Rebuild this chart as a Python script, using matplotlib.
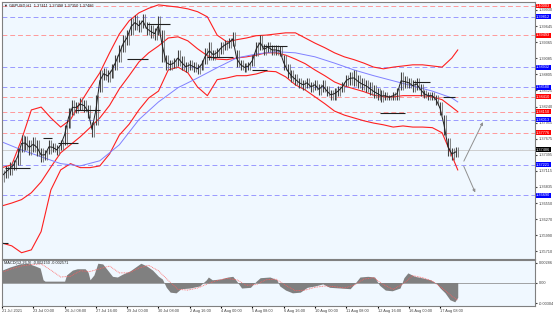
import matplotlib
matplotlib.use('Agg')
from matplotlib import pyplot as plt
import numpy as np

plt.rcParams['font.family'] = ['Liberation Sans', 'DejaVu Sans']

# bars sampled every 4 H1 bars (high / low)
bar_x = np.arange(0, 468, 4)
bar_hi = [1.3713, 1.3720, 1.3727, 1.3731, 1.3751, 1.3774, 1.3772, 1.3766, 1.3771, 1.3766,
          1.3751, 1.3748, 1.3766, 1.3760, 1.3757, 1.3766, 1.3792, 1.3822, 1.3836, 1.3832,
          1.3839, 1.3836, 1.3827, 1.3797, 1.3844, 1.3888, 1.3892, 1.3888, 1.3899, 1.3914,
          1.3932, 1.3949, 1.3958, 1.3979, 1.3984, 1.3976, 1.3986, 1.3972, 1.3967, 1.3962,
          1.3983, 1.3958, 1.3914, 1.3906, 1.3909, 1.3923, 1.3913, 1.3902, 1.3906, 1.3902,
          1.3899, 1.3906, 1.3927, 1.3937, 1.3923, 1.3927, 1.3937, 1.3941, 1.3944, 1.3955,
          1.3923, 1.3906, 1.3900, 1.3902, 1.3914, 1.3937, 1.3949, 1.3934, 1.3937, 1.3932,
          1.3932, 1.3930, 1.3914, 1.3899, 1.3888, 1.3881, 1.3874, 1.3871, 1.3874, 1.3867,
          1.3871, 1.3864, 1.3871, 1.3860, 1.3853, 1.3857, 1.3860, 1.3867, 1.3879, 1.3885,
          1.3888, 1.3879, 1.3874, 1.3871, 1.3867, 1.3862, 1.3857, 1.3853, 1.3850, 1.3844,
          1.3850, 1.3857, 1.3885, 1.3878, 1.3874, 1.3871, 1.3874, 1.3864, 1.3853, 1.3850,
          1.3850, 1.3844, 1.3832, 1.3809, 1.3769, 1.3751, 1.3753]
bar_lo = [1.3692, 1.3699, 1.3704, 1.3713, 1.3722, 1.3745, 1.3748, 1.3739, 1.3745, 1.3738,
          1.3727, 1.3731, 1.3741, 1.3745, 1.3739, 1.3748, 1.3757, 1.3787, 1.3809, 1.3813,
          1.3818, 1.3815, 1.3804, 1.3771, 1.3792, 1.3850, 1.3871, 1.3867, 1.3874, 1.3888,
          1.3902, 1.3920, 1.3932, 1.3949, 1.3958, 1.3955, 1.3962, 1.3949, 1.3944, 1.3941,
          1.3949, 1.3902, 1.3888, 1.3888, 1.3892, 1.3895, 1.3888, 1.3885, 1.3888, 1.3885,
          1.3881, 1.3888, 1.3899, 1.3906, 1.3906, 1.3910, 1.3916, 1.3923, 1.3927, 1.3930,
          1.3893, 1.3888, 1.3885, 1.3888, 1.3895, 1.3913, 1.3923, 1.3914, 1.3920, 1.3914,
          1.3914, 1.3913, 1.3888, 1.3874, 1.3867, 1.3862, 1.3857, 1.3853, 1.3857, 1.3850,
          1.3853, 1.3844, 1.3850, 1.3843, 1.3836, 1.3836, 1.3843, 1.3850, 1.3860, 1.3862,
          1.3860, 1.3857, 1.3853, 1.3850, 1.3844, 1.3839, 1.3836, 1.3832, 1.3836, 1.3836,
          1.3836, 1.3836, 1.3853, 1.3857, 1.3857, 1.3850, 1.3853, 1.3843, 1.3839, 1.3836,
          1.3836, 1.3827, 1.3809, 1.3774, 1.3738, 1.3731, 1.3736]

# bollinger bands, every 10 bars
band_x = list(range(0, 470, 10)) + [466]
bb_up = [1.3717, 1.3722, 1.3766, 1.3818, 1.3823, 1.3804, 1.3788, 1.3801, 1.3830, 1.3857,
         1.3883, 1.3918, 1.3951, 1.3974, 1.3988, 1.3996, 1.4002, 1.4000, 1.3998, 1.3995,
         1.3990, 1.3981, 1.3949, 1.3937, 1.3941, 1.3944, 1.3948, 1.3949, 1.3951, 1.3953,
         1.3953, 1.3944, 1.3935, 1.3927, 1.3918, 1.3911, 1.3906, 1.3900, 1.3893, 1.3890,
         1.3893, 1.3895, 1.3897, 1.3897, 1.3895, 1.3893, 1.3909, 1.3923]
bb_mid = [1.3650, 1.3655, 1.3661, 1.3673, 1.3692, 1.3718, 1.3743, 1.3757, 1.3771, 1.3787,
          1.3804, 1.3826, 1.3855, 1.3878, 1.3902, 1.3918, 1.3930, 1.3944, 1.3946, 1.3939,
          1.3925, 1.3913, 1.3907, 1.3906, 1.3909, 1.3911, 1.3914, 1.3918, 1.3918, 1.3914,
          1.3907, 1.3899, 1.3888, 1.3878, 1.3867, 1.3860, 1.3855, 1.3850, 1.3844, 1.3841,
          1.3841, 1.3843, 1.3843, 1.3843, 1.3841, 1.3836, 1.3823, 1.3815]
bb_lo = [1.3585, 1.3580, 1.3568, 1.3573, 1.3605, 1.3678, 1.3713, 1.3724, 1.3717, 1.3717,
         1.3720, 1.3741, 1.3774, 1.3793, 1.3818, 1.3839, 1.3851, 1.3888, 1.3893, 1.3883,
         1.3858, 1.3843, 1.3871, 1.3874, 1.3878, 1.3878, 1.3881, 1.3886, 1.3885, 1.3876,
         1.3862, 1.3853, 1.3841, 1.3829, 1.3816, 1.3809, 1.3804, 1.3799, 1.3795, 1.3792,
         1.3788, 1.3790, 1.3788, 1.3788, 1.3787, 1.3778, 1.3738, 1.3713]

# slow moving average (blue), every 20 bars
ma_x = list(range(0, 470, 20)) + [466]
ma_val = [1.3762, 1.3748, 1.3736, 1.3724, 1.3720, 1.3729, 1.3757, 1.3801, 1.3832, 1.3857,
          1.3874, 1.3892, 1.3909, 1.3916, 1.3920, 1.3918, 1.3911, 1.3900, 1.3888, 1.3878,
          1.3869, 1.3860, 1.3851, 1.3839, 1.3832]

# short horizontal levels (bar from, bar to, price)
seg_x0 = [0, 3, 42, 57, 75, 128, 148, 210, 256, 267, 387, 420, 451]
seg_x1 = [6, 29, 51, 78, 100, 149, 172, 236, 271, 291, 412, 438, 463]
seg_y = [1.3585, 1.3717, 1.3769, 1.3760, 1.3818, 1.3907, 1.3969, 1.3911, 1.3888, 1.3930,
         1.3813, 1.3867, 1.3841]

# dashed levels
red_lv = [1.4000, 1.3949, 1.3841, 1.3815, 1.3778]
red_txt = ['1.40003', '1.39493', '1.38410', '1.38150', '1.37776']
blue_lv = [1.3981, 1.3893, 1.3858, 1.3801, 1.3722, 1.3669]
blue_txt = ['1.39812', '1.38932', '1.38580', '1.38013', '1.37221', '1.36690']
last_price = 1.37486

# projection lines
proj_x = [471, 493, 485]
proj_y = [1.3724, 1.3801, 1.3669]

# MACD
macd_x = [0, 8, 18, 26, 34, 39, 42, 44, 64, 66, 72, 77, 85, 88, 90, 94, 98, 103, 108, 113,
          118, 123, 131, 138, 142, 148, 154, 160, 164, 168, 172, 178, 183, 192, 202, 209, 211,
          215, 223, 231, 236, 240, 245, 254, 260, 264, 274, 281, 284, 290, 297, 305, 312, 320,
          328, 335, 346, 356, 361, 366, 374, 381, 386, 392, 399, 407, 411, 415, 422, 429, 438,
          444, 448, 453, 458, 463, 466]
macd_val = [0.0018, 0.00225, 0.0027, 0.0028, 0.0024, 0.0021, 0.0004, 0.0002, 0.0002, 0.0011,
            0.0018, 0.0020, 0.0020, 0.0015, 0.0004, 0.0011, 0.0028, 0.0027, 0.0018, 0.0009,
            0.0008, 0.0012, 0.0017, 0.0024, 0.0028, 0.0024, 0.0018, 0.0009, 0.0005, -0.0007,
            -0.0014, -0.0015, -0.0009, -0.0008, -0.0005, 0.0004, 0.0008, 0.0004, 0.0005, 0.0008,
            0.0009, 0.0002, -0.0008, -0.0007, 0.0002, 0.0007, 0.0008, 0.0004, -0.0005, -0.0011,
            -0.0015, -0.0014, -0.0007, -0.0005, -0.0002, -0.0007, -0.0008, -0.0009, -0.0001,
            0.0008, 0.0009, 0.0008, -0.0004, -0.0011, -0.0012, -0.0008, 0.0007, 0.0014, 0.0009,
            0.0007, 0.0004, -0.0001, -0.0008, -0.0015, -0.0025, -0.0028, -0.00215]
sig_x = list(range(0, 470, 10)) + [466]
sig_val = [0.0015, 0.0020, 0.0024, 0.0026, 0.0027, 0.0018, 0.0008, 0.0009, 0.0017, 0.0016,
           0.0020, 0.0024, 0.0014, 0.0014, 0.0021, 0.0025, 0.0017, 0.0003, -0.0010, -0.0011,
           -0.0008, -0.0002, 0.0003, 0.0006, 0.0004, -0.0004, -0.0003, 0.0004, 0.0005, -0.0004,
           -0.0012, -0.0011, -0.0007, -0.0005, -0.0006, -0.0008, -0.0004, 0.0005, 0.0007, -0.0003,
           -0.0010, -0.0002, 0.0010, 0.0007, 0.0002, -0.0008, -0.0020, -0.002571]

price_ticks = [1.35710, 1.35990, 1.36270, 1.36550, 1.36835, 1.37115, 1.37395, 1.37675,
               1.37955, 1.38240, 1.38525, 1.38805, 1.39085, 1.39365, 1.39645, 1.39930]
time_labels = ['21 Jul 2021', '23 Jul 00:00', '26 Jul 08:00', '27 Jul 16:00', '29 Jul 00:00',
               '30 Jul 08:00', '2 Aug 16:00', '4 Aug 00:00', '5 Aug 08:00', '6 Aug 16:00',
               '10 Aug 00:00', '11 Aug 08:00', '12 Aug 16:00', '16 Aug 00:00', '17 Aug 08:00']

W, H = 553, 314
bg = '#F0F8FF'
FS = 2.8
fig = plt.figure(figsize=(W / 100, H / 100), dpi=100)
fig.patch.set_facecolor('white')
ax = fig.add_axes([2 / W, 1 - 259 / H, 533 / W, 257 / H])
ax2 = fig.add_axes([2 / W, 1 - 306 / H, 533 / W, 46 / H])
XMAX = 545

for a in (ax, ax2):
    a.set_facecolor(bg)
    a.set_xlim(0, XMAX)
    for s in a.spines.values():
        s.set_color('#808080')
        s.set_linewidth(0.8)
    a.yaxis.tick_right()
    a.tick_params(axis='y', labelsize=FS, length=1.5, pad=1, colors='#404040')

ax.set_ylim(1.35570, 1.40070)
ax.set_yticks(price_ticks)
ax.set_yticklabels(['%.5f' % v for v in price_ticks])
ax.set_xticks([])

for lv in red_lv:
    ax.axhline(lv, color='#FF9A9A', lw=0.7, ls=(0, (5, 3)))
for lv in blue_lv:
    ax.axhline(lv, color='#9A9AFF', lw=0.7, ls=(0, (5, 3)))
ax.axhline(last_price, color='#C8C8C8', lw=0.6)

ax.plot(band_x, bb_up, color='#FF2020', lw=0.8)
ax.plot(band_x, bb_mid, color='#FF2020', lw=0.8)
ax.plot(band_x, bb_lo, color='#FF2020', lw=0.8)
ax.plot(ma_x, ma_val, color='#8080FF', lw=0.7)

ax.vlines(bar_x, bar_lo, bar_hi, color='#404040', lw=0.8)
ax.vlines(bar_x + 2, bar_lo, bar_hi, color='#707070', lw=0.6)
ax.plot(bar_x, [(h + l) / 2 for h, l in zip(bar_hi, bar_lo)], color='#202020', lw=0.7)
ax.hlines(seg_y, seg_x0, seg_x1, color='#202020', lw=0.8)

ax.annotate('', xy=(proj_x[1], proj_y[1]), xytext=(proj_x[0], proj_y[0]),
            arrowprops=dict(arrowstyle='-|>', color='#909090', lw=0.7, mutation_scale=4))
ax.annotate('', xy=(proj_x[2], proj_y[2]), xytext=(proj_x[0], proj_y[0]),
            arrowprops=dict(arrowstyle='-|>', color='#909090', lw=0.7, mutation_scale=4))

def tag(a, v, txt, fc):
    a.text(1.002, v, txt, transform=a.get_yaxis_transform(), fontsize=FS, color='white',
           va='center', ha='left', bbox=dict(boxstyle='square,pad=0.12', fc=fc, ec='none'),
           clip_on=False)

for v, t in zip(red_lv, red_txt):
    tag(ax, v, t, '#FF0000')
for v, t in zip(blue_lv, blue_txt):
    tag(ax, v, t, '#0000FF')
tag(ax, last_price, '%.5f' % last_price, '#000000')

ax.text(0.004, 0.993, '\u25bc GBPUSD,H1  1.37411 1.37498 1.37350 1.37486', transform=ax.transAxes,
        fontsize=FS, va='top', ha='left', color='#202020')

# MACD panel
ax2.set_ylim(-0.00341, 0.00327)
ax2.fill_between(macd_x, 0, macd_val, color='#808080', lw=0)
ax2.plot(sig_x, sig_val, color='#FF6060', lw=0.6, ls=(0, (1, 1)))
ax2.axhline(0, color='#808080', lw=0.5)
ax2.set_yticks([0.00286, 0.0, -0.00304])
ax2.set_yticklabels(['0.00286', '0.00', '-0.00304'])
ax2.set_xticks(np.arange(0, 15) * 32)
ax2.set_xticklabels(time_labels, fontsize=FS, ha='left', color='#404040')
ax2.tick_params(axis='x', length=1.5, pad=1)
ax2.text(0.004, 0.97, 'MACD(12,26,9) -0.002150 -0.002571', transform=ax2.transAxes,
         fontsize=FS, va='top', ha='left', color='#202020')

fig.savefig('out.png', dpi=100, facecolor=fig.get_facecolor())
